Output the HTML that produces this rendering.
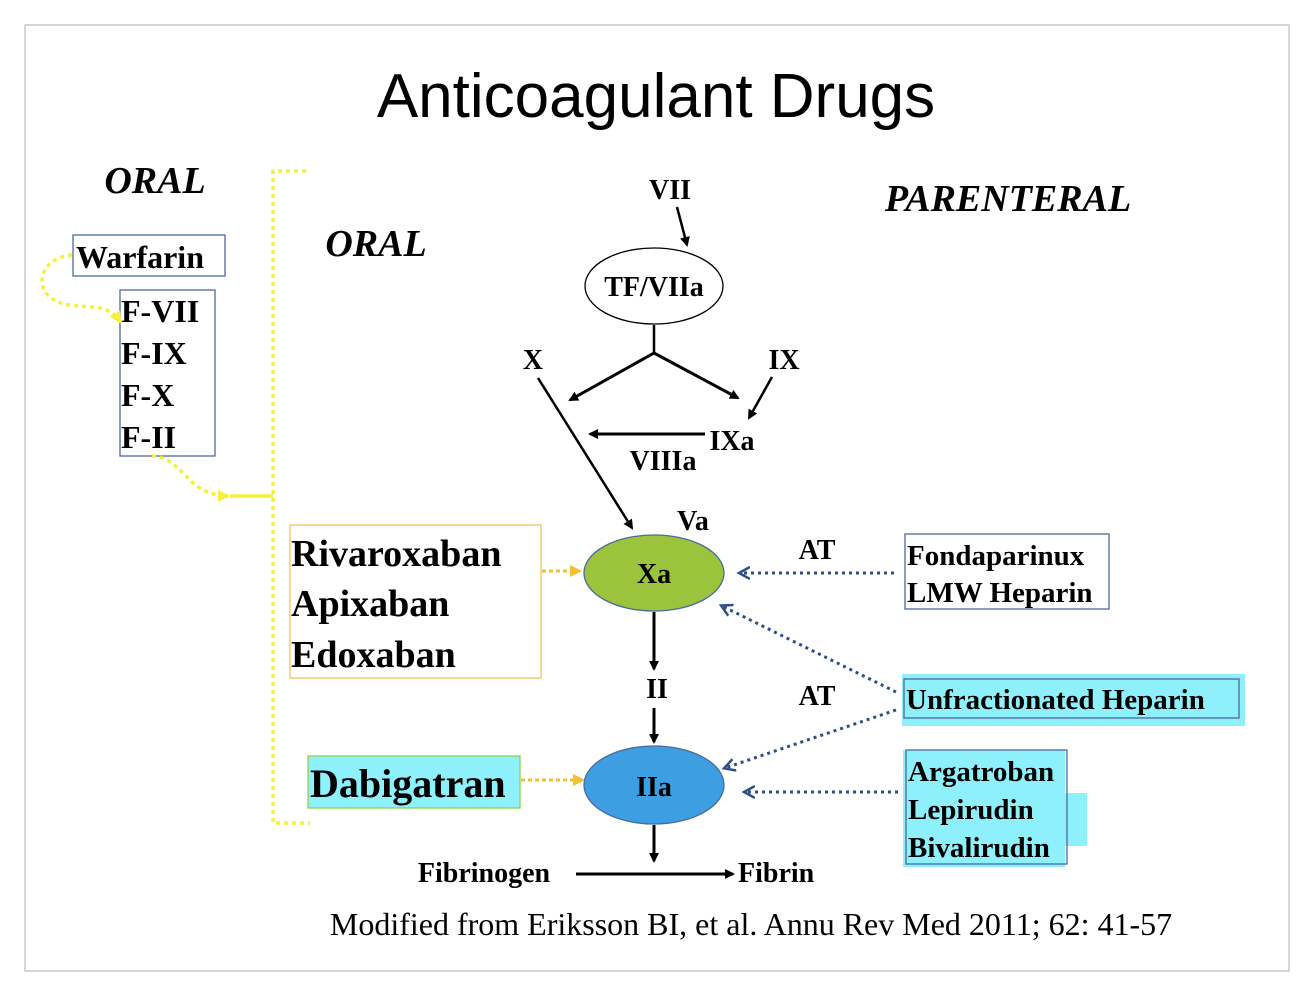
<!DOCTYPE html>
<html><head><meta charset="utf-8"><style>
html,body{margin:0;padding:0;background:#fff}
svg{display:block}
.b{font-family:"Liberation Serif",serif;font-weight:bold;fill:#000}
</style></head><body>
<svg width="1306" height="994" viewBox="0 0 1306 994" xmlns="http://www.w3.org/2000/svg">
<defs>
<marker id="ab" markerWidth="10" markerHeight="10" refX="8" refY="5" orient="auto" markerUnits="userSpaceOnUse"><path d="M0,0 L10,5 L0,10 z" fill="#000"/></marker>
<marker id="ay" markerWidth="12" markerHeight="12" refX="10" refY="6" orient="auto" markerUnits="userSpaceOnUse"><path d="M0,0 L12,6 L0,12 z" fill="#f7ef3a"/></marker>
<marker id="ao" markerWidth="12" markerHeight="12" refX="10" refY="6" orient="auto" markerUnits="userSpaceOnUse"><path d="M0,0 L12,6 L0,12 z" fill="#f3c030"/></marker>
<marker id="an" markerWidth="14" markerHeight="14" refX="10" refY="7" orient="auto" markerUnits="userSpaceOnUse"><path d="M0,1 L11,7 L0,13" fill="none" stroke="#2e4e8a" stroke-width="2.5"/></marker>
</defs>
<rect x="25" y="25" width="1264" height="946" fill="#fff" stroke="#c8c8c8" stroke-width="1.5"/>
<text x="656" y="117" text-anchor="middle" font-family="Liberation Sans,sans-serif" font-size="62" fill="#000">Anticoagulant Drugs</text>
<text x="155" y="193" text-anchor="middle" class="b" font-style="italic" font-size="38">ORAL</text>
<text x="376" y="256" text-anchor="middle" class="b" font-style="italic" font-size="38">ORAL</text>
<text x="1008" y="211" text-anchor="middle" class="b" font-style="italic" font-size="38">PARENTERAL</text>
<!-- left boxes -->
<rect x="73" y="235" width="152" height="41" fill="none" stroke="#4a6aa0" stroke-width="1.3"/>
<text x="76" y="268" class="b" font-size="32">Warfarin</text>
<rect x="120" y="290" width="95" height="166" fill="none" stroke="#4a6aa0" stroke-width="1.3"/>
<text x="121" y="322" class="b" font-size="32">F-VII</text>
<text x="121" y="364" class="b" font-size="32">F-IX</text>
<text x="121" y="406" class="b" font-size="32">F-X</text>
<text x="121" y="448" class="b" font-size="32">F-II</text>
<path d="M72,255 C35,258 30,300 70,305 C95,308 110,305 120,322" fill="none" stroke="#f7ef3a" stroke-width="3.5" stroke-dasharray="4,4" marker-end="url(#ay)"/>
<path d="M152,456 C185,458 185,495 228,496" fill="none" stroke="#f7ef3a" stroke-width="3.5" stroke-dasharray="4,4" marker-end="url(#ay)"/>
<line x1="230" y1="496" x2="273" y2="496" stroke="#f7ef3a" stroke-width="3.5"/>
<path d="M306,171 L273,171 L273,823 L310,823" fill="none" stroke="#f7ef3a" stroke-width="3.5" stroke-dasharray="4,4"/>
<!-- Rivaroxaban box -->
<rect x="290" y="525" width="251" height="153" fill="none" stroke="#f3c462" stroke-width="1.3"/>
<text x="291" y="566" class="b" font-size="38">Rivaroxaban</text>
<text x="291" y="616" class="b" font-size="38">Apixaban</text>
<text x="291" y="667" class="b" font-size="38">Edoxaban</text>
<line x1="542" y1="571" x2="580" y2="571" stroke="#f3c030" stroke-width="3" stroke-dasharray="4,3" marker-end="url(#ao)"/>
<rect x="308" y="756" width="212" height="52" fill="#8ef0fb" stroke="#8fd24a" stroke-width="1.3"/>
<text x="310" y="797" class="b" font-size="40">Dabigatran</text>
<line x1="521" y1="780" x2="583" y2="780" stroke="#f3c030" stroke-width="3" stroke-dasharray="4,3" marker-end="url(#ao)"/>
<!-- cascade -->
<text x="670" y="199" text-anchor="middle" class="b" font-size="28">VII</text>
<line x1="677" y1="207" x2="687" y2="245" stroke="#000" stroke-width="2.5" marker-end="url(#ab)"/>
<ellipse cx="654" cy="286" rx="69" ry="38" fill="#fff" stroke="#000" stroke-width="1.3"/>
<text x="654" y="296" text-anchor="middle" class="b" font-size="28">TF/VIIa</text>
<line x1="654" y1="325" x2="654" y2="353" stroke="#000" stroke-width="2.5"/>
<line x1="654" y1="353" x2="570" y2="400" stroke="#000" stroke-width="3" marker-end="url(#ab)"/>
<line x1="654" y1="353" x2="738" y2="398" stroke="#000" stroke-width="3" marker-end="url(#ab)"/>
<text x="533" y="369" text-anchor="middle" class="b" font-size="28">X</text>
<text x="784" y="369" text-anchor="middle" class="b" font-size="28">IX</text>
<line x1="772" y1="377" x2="749" y2="418" stroke="#000" stroke-width="2.5" marker-end="url(#ab)"/>
<line x1="705" y1="434" x2="590" y2="434" stroke="#000" stroke-width="3" marker-end="url(#ab)"/>
<text x="732" y="450" text-anchor="middle" class="b" font-size="28">IXa</text>
<text x="663" y="470" text-anchor="middle" class="b" font-size="28">VIIIa</text>
<line x1="538" y1="378" x2="632" y2="528" stroke="#000" stroke-width="2.5" marker-end="url(#ab)"/>
<text x="693" y="530" text-anchor="middle" class="b" font-size="28">Va</text>
<ellipse cx="654" cy="573" rx="70" ry="38" fill="#9bc43c" stroke="#4a6a9a" stroke-width="1.3"/>
<text x="654" y="583" text-anchor="middle" class="b" font-size="28">Xa</text>
<line x1="654" y1="612" x2="654" y2="669" stroke="#000" stroke-width="3" marker-end="url(#ab)"/>
<text x="657" y="698" text-anchor="middle" class="b" font-size="28">II</text>
<line x1="654" y1="708" x2="654" y2="742" stroke="#000" stroke-width="3" marker-end="url(#ab)"/>
<ellipse cx="654" cy="785" rx="70" ry="39" fill="#3d9fe2" stroke="#4a6a9a" stroke-width="1.3"/>
<text x="654" y="796" text-anchor="middle" class="b" font-size="28">IIa</text>
<line x1="654" y1="825" x2="654" y2="861" stroke="#000" stroke-width="3" marker-end="url(#ab)"/>
<text x="484" y="882" text-anchor="middle" class="b" font-size="28">Fibrinogen</text>
<line x1="576" y1="874" x2="733" y2="874" stroke="#000" stroke-width="3" marker-end="url(#ab)"/>
<text x="738" y="882" class="b" font-size="28">Fibrin</text>
<!-- parenteral -->
<text x="817" y="559" text-anchor="middle" class="b" font-size="28">AT</text>
<text x="817" y="705" text-anchor="middle" class="b" font-size="28">AT</text>
<rect x="905" y="534" width="204" height="75" fill="none" stroke="#4a6aa0" stroke-width="1.3"/>
<text x="907" y="565" class="b" font-size="29">Fondaparinux</text>
<text x="907" y="602" class="b" font-size="29">LMW Heparin</text>
<line x1="894" y1="573" x2="740" y2="573" stroke="#2e4e8a" stroke-width="3" stroke-dasharray="3,4" marker-end="url(#an)"/>
<rect x="902" y="674" width="343" height="52" fill="#8ef0fb"/>
<rect x="904" y="679" width="335" height="39" fill="none" stroke="#4a6aa0" stroke-width="1.3"/>
<text x="906" y="709" class="b" font-size="29">Unfractionated  Heparin</text>
<line x1="896" y1="692" x2="722" y2="606" stroke="#2e4e8a" stroke-width="3" stroke-dasharray="3,4" marker-end="url(#an)"/>
<line x1="896" y1="710" x2="725" y2="768" stroke="#2e4e8a" stroke-width="3" stroke-dasharray="3,4" marker-end="url(#an)"/>
<rect x="903" y="750" width="162" height="117" fill="#8ef0fb"/>
<rect x="1063" y="793" width="24" height="53" fill="#8ef0fb"/>
<rect x="906" y="750" width="161" height="114" fill="none" stroke="#4a6aa0" stroke-width="1.3"/>
<text x="908" y="781" class="b" font-size="29">Argatroban</text>
<text x="908" y="819" class="b" font-size="29">Lepirudin</text>
<text x="908" y="857" class="b" font-size="29">Bivalirudin</text>
<line x1="898" y1="792" x2="745" y2="792" stroke="#2e4e8a" stroke-width="3" stroke-dasharray="3,4" marker-end="url(#an)"/>
<text x="751" y="935" text-anchor="middle" font-family="Liberation Serif,serif" font-size="32" fill="#000">Modified from Eriksson BI, et al. Annu Rev Med 2011; 62: 41-57</text>
</svg>
</body></html>
